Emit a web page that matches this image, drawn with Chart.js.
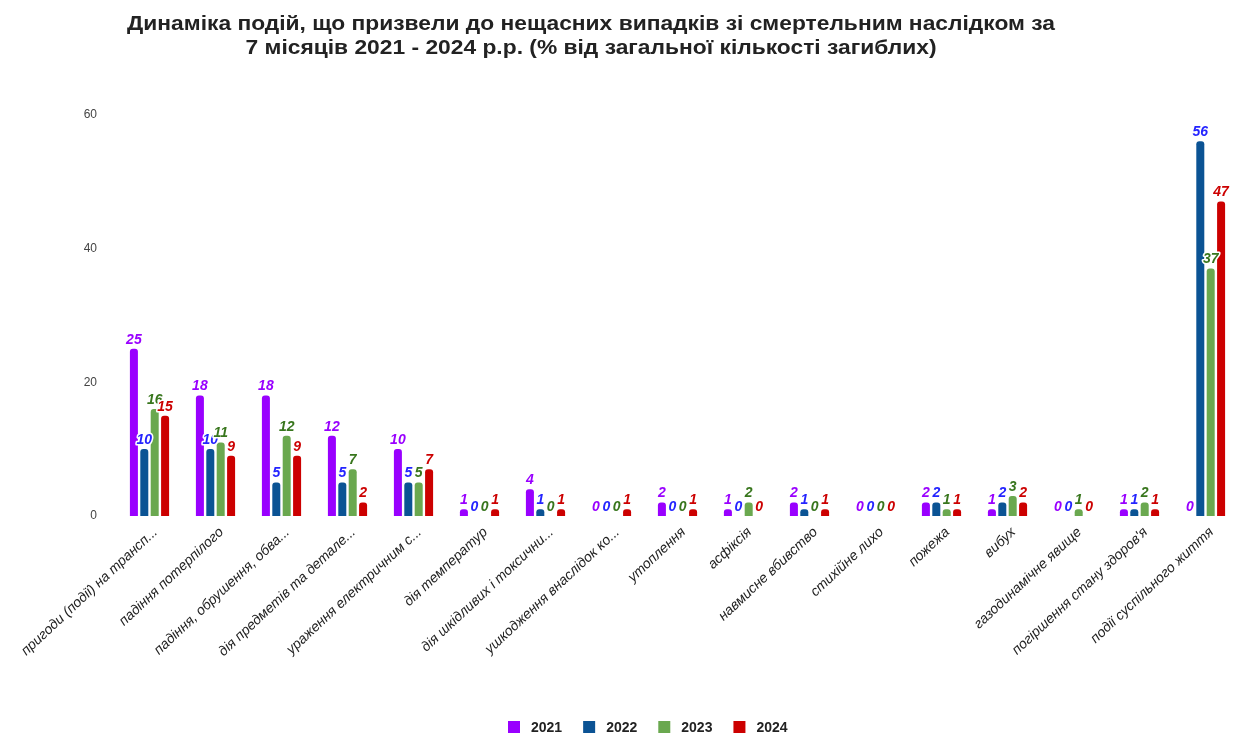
<!DOCTYPE html>
<html>
<head>
<meta charset="utf-8">
<script src="https://cdn.jsdelivr.net/npm/chart.js@4/dist/chart.umd.min.js"></script>
<style>
  html, body { margin: 0; padding: 0; background: #fff; overflow: hidden; }
  #wrap { position: absolute; left: 0; top: 0; width: 1240px; height: 733px; }
</style>
</head>
<body>
<div id="wrap"><canvas id="c" width="1240" height="733"></canvas></div>
<script>
// Chart text
const titleLines = [
  'Динаміка подій, що призвели до нещасних випадків зі смертельним наслідком за',
  '7 місяців 2021 - 2024 р.р. (% від загальної кількості загиблих)'
];

const categories = [
  'пригоди (події) на трансп...',
  'падіння потерпілого',
  'падіння, обрушення, обва...',
  'дія предметів та детале...',
  'ураження електричним с...',
  'дія температур',
  'дія шкідливих і токсични...',
  'ушкодження внаслідок ко...',
  'утоплення',
  'асфіксія',
  'навмисне вбивство',
  'стихійне лихо',
  'пожежа',
  'вибух',
  'газодинамічне явище',
  "погіршення стану здоров'я",
  'події суспільного життя'
];

const years = ['2021', '2022', '2023', '2024'];

// Share of all fatalities, %
const v2021 = [25, 18, 18, 12, 10, 1, 4, 0, 2, 1, 2, 0, 2, 1, 0, 1, 0];
const v2022 = [10, 10, 5, 5, 5, 0, 1, 0, 0, 0, 1, 0, 2, 2, 0, 1, 56];
const v2023 = [16, 11, 12, 7, 5, 0, 0, 0, 0, 2, 0, 0, 1, 3, 1, 2, 37];
const v2024 = [15, 9, 9, 2, 7, 1, 1, 1, 1, 0, 1, 0, 1, 2, 0, 1, 47];

const yTicks = [0, 20, 40, 60];

const barColors = ['#9900ff', '#0b5394', '#6aa84f', '#cc0000'];
const labelColors = ['#9900ff', '#2424ff', '#38761d', '#cc0000'];

const FONT = '"Liberation Sans", Arial, sans-serif';

// Two-line bold heading, set slightly wide
const titlePlugin = {
  id: 'twoLineTitle',
  afterDraw(chart) {
    const ctx = chart.ctx;
    const cx = 591, stretch = 1.14;
    ctx.save();
    ctx.translate(cx, 0);
    ctx.scale(stretch, 1);
    ctx.font = 'bold 20px ' + FONT;
    ctx.fillStyle = '#222';
    ctx.textAlign = 'center';
    ctx.textBaseline = 'alphabetic';
    ctx.fillText(titleLines[0], 0, 30);
    ctx.fillText(titleLines[1], 0, 54);
    ctx.restore();
  }
};

// Value labels above every bar
const valueLabels = {
  id: 'valueLabels',
  afterDatasetsDraw(chart) {
    const ctx = chart.ctx;
    ctx.save();
    ctx.font = 'italic bold 14px ' + FONT;
    ctx.textAlign = 'center';
    ctx.textBaseline = 'bottom';
    ctx.lineJoin = 'round';
    chart.data.datasets.forEach((ds, di) => {
      const meta = chart.getDatasetMeta(di);
      meta.data.forEach((bar, i) => {
        const txt = String(ds.data[i]);
        const y = bar.y - 2;
        ctx.lineWidth = 3;
        ctx.strokeStyle = '#ffffff';
        ctx.strokeText(txt, bar.x, y);
        ctx.fillStyle = labelColors[di];
        ctx.fillText(txt, bar.x, y);
      });
    });
    ctx.restore();
  }
};

// Legend row at the bottom
const bottomLegend = {
  id: 'bottomLegend',
  afterDraw(chart) {
    const ctx = chart.ctx;
    ctx.save();
    ctx.font = 'bold 14px ' + FONT;
    ctx.textBaseline = 'alphabetic';
    ctx.textAlign = 'left';
    let x = 508;
    chart.data.datasets.forEach(ds => {
      ctx.fillStyle = ds.backgroundColor;
      ctx.fillRect(x, 721, 12, 12);
      ctx.fillStyle = '#222';
      ctx.fillText(ds.label, x + 23, 732);
      x += 23 + ctx.measureText(ds.label).width + 21;
    });
    ctx.restore();
  }
};

const series = [v2021, v2022, v2023, v2024];

new Chart(document.getElementById('c'), {
  type: 'bar',
  data: {
    labels: categories,
    datasets: years.map((y, i) => ({
      label: y,
      data: series[i],
      backgroundColor: barColors[i],
      borderWidth: 0,
      borderRadius: { topLeft: 3, topRight: 3 },
      borderSkipped: 'bottom',
      barPercentage: 0.77,
      categoryPercentage: 0.63
    }))
  },
  options: {
    responsive: false,
    animation: false,
    devicePixelRatio: 1,
    layout: { padding: { top: 114.6, left: 0, right: 1.5, bottom: 0 } },
    plugins: {
      legend: { display: false },
      title: { display: false },
      tooltip: { enabled: false }
    },
    scales: {
      x: {
        grid: { display: false, drawTicks: false },
        border: { display: false },
        ticks: {
          autoSkip: false,
          minRotation: 43,
          maxRotation: 43,
          padding: 8,
          labelOffset: 6,
          color: '#222',
          font: { family: FONT, size: 14, style: 'italic' }
        },
        afterFit(scale) {
          scale.height = 217;
          scale.paddingLeft = 0;
          scale.paddingRight = 0;
        }
      },
      y: {
        min: 0,
        max: 60,
        grid: { display: false, drawTicks: false },
        border: { display: false },
        ticks: {
          padding: 19.5,
          color: '#444',
          font: { family: FONT, size: 12 }
        },
        afterBuildTicks(scale) {
          scale.ticks = yTicks.map(v => ({ value: v }));
        },
        afterFit(scale) {
          scale.width = 116.5;
          scale.paddingTop = 0;
          scale.paddingBottom = 0;
        }
      }
    }
  },
  plugins: [titlePlugin, valueLabels, bottomLegend]
});
</script>
</body>
</html>
